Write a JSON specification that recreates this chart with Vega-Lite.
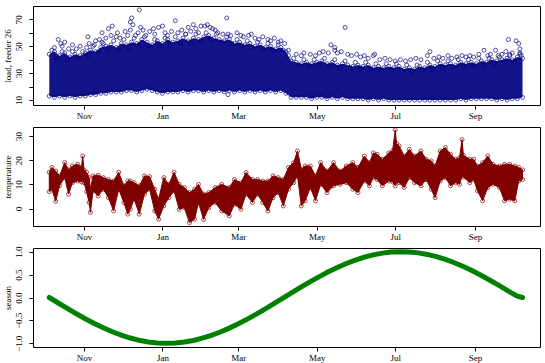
{
"$schema":"https://vega.github.io/schema/vega-lite/v6.json",
"padding":{"left":3,"top":5,"right":0,"bottom":0},
"background":"white",
"spacing":22,
"bounds":"flush",
"datasets":{
"load":[
{"d":"2010-10-05","lo":13,"hi":44},{"d":"2010-10-09","lo":12,"hi":46},{"d":"2010-10-13","lo":13,"hi":43},{"d":"2010-10-17","lo":12,"hi":45},{"d":"2010-10-21","lo":13,"hi":42},{"d":"2010-10-25","lo":12,"hi":44},{"d":"2010-10-29","lo":13,"hi":43},
{"d":"2010-11-02","lo":13,"hi":45},{"d":"2010-11-06","lo":14,"hi":47},{"d":"2010-11-10","lo":14,"hi":46},{"d":"2010-11-14","lo":15,"hi":49},{"d":"2010-11-18","lo":15,"hi":50},{"d":"2010-11-22","lo":16,"hi":51},{"d":"2010-11-26","lo":16,"hi":49},{"d":"2010-11-30","lo":16,"hi":52},
{"d":"2010-12-04","lo":17,"hi":51},{"d":"2010-12-08","lo":17,"hi":53},{"d":"2010-12-12","lo":16,"hi":52},{"d":"2010-12-16","lo":17,"hi":55},{"d":"2010-12-20","lo":18,"hi":53},{"d":"2010-12-24","lo":17,"hi":51},{"d":"2010-12-28","lo":16,"hi":54},
{"d":"2011-01-01","lo":15,"hi":52},{"d":"2011-01-05","lo":16,"hi":55},{"d":"2011-01-09","lo":16,"hi":53},{"d":"2011-01-13","lo":16,"hi":54},{"d":"2011-01-17","lo":17,"hi":56},{"d":"2011-01-21","lo":16,"hi":54},{"d":"2011-01-25","lo":17,"hi":56},{"d":"2011-01-29","lo":17,"hi":55},
{"d":"2011-02-02","lo":16,"hi":57},{"d":"2011-02-06","lo":17,"hi":58},{"d":"2011-02-10","lo":16,"hi":56},{"d":"2011-02-14","lo":17,"hi":55},{"d":"2011-02-18","lo":16,"hi":54},{"d":"2011-02-22","lo":17,"hi":55},{"d":"2011-02-26","lo":16,"hi":52},
{"d":"2011-03-02","lo":17,"hi":53},{"d":"2011-03-06","lo":16,"hi":51},{"d":"2011-03-10","lo":17,"hi":52},{"d":"2011-03-14","lo":16,"hi":50},{"d":"2011-03-18","lo":17,"hi":51},{"d":"2011-03-22","lo":16,"hi":49},{"d":"2011-03-26","lo":17,"hi":50},{"d":"2011-03-30","lo":16,"hi":48},
{"d":"2011-04-03","lo":17,"hi":49},{"d":"2011-04-07","lo":15,"hi":46},{"d":"2011-04-11","lo":12,"hi":39},{"d":"2011-04-15","lo":12,"hi":38},{"d":"2011-04-19","lo":12,"hi":37},{"d":"2011-04-23","lo":12,"hi":38},{"d":"2011-04-27","lo":11,"hi":37},
{"d":"2011-05-01","lo":12,"hi":38},{"d":"2011-05-05","lo":12,"hi":39},{"d":"2011-05-09","lo":11,"hi":37},{"d":"2011-05-13","lo":12,"hi":38},{"d":"2011-05-17","lo":11,"hi":36},{"d":"2011-05-21","lo":12,"hi":37},{"d":"2011-05-25","lo":11,"hi":36},{"d":"2011-05-29","lo":11,"hi":35},
{"d":"2011-06-02","lo":11,"hi":36},{"d":"2011-06-06","lo":11,"hi":35},{"d":"2011-06-10","lo":10,"hi":36},{"d":"2011-06-14","lo":11,"hi":34},{"d":"2011-06-18","lo":10,"hi":35},{"d":"2011-06-22","lo":11,"hi":34},{"d":"2011-06-26","lo":10,"hi":35},{"d":"2011-06-30","lo":10,"hi":34},
{"d":"2011-07-04","lo":10,"hi":35},{"d":"2011-07-08","lo":10,"hi":33},{"d":"2011-07-12","lo":10,"hi":34},{"d":"2011-07-16","lo":10,"hi":33},{"d":"2011-07-20","lo":10,"hi":35},{"d":"2011-07-24","lo":10,"hi":34},{"d":"2011-07-28","lo":10,"hi":36},
{"d":"2011-08-01","lo":10,"hi":35},{"d":"2011-08-05","lo":10,"hi":37},{"d":"2011-08-09","lo":10,"hi":36},{"d":"2011-08-13","lo":10,"hi":37},{"d":"2011-08-17","lo":10,"hi":36},{"d":"2011-08-21","lo":11,"hi":38},{"d":"2011-08-25","lo":10,"hi":37},{"d":"2011-08-29","lo":11,"hi":38},
{"d":"2011-09-02","lo":11,"hi":37},{"d":"2011-09-06","lo":11,"hi":39},{"d":"2011-09-10","lo":11,"hi":38},{"d":"2011-09-14","lo":11,"hi":40},{"d":"2011-09-18","lo":10,"hi":39},{"d":"2011-09-22","lo":11,"hi":40},{"d":"2011-09-26","lo":10,"hi":41},{"d":"2011-09-30","lo":11,"hi":40},
{"d":"2011-10-04","lo":11,"hi":42},{"d":"2011-10-08","lo":12,"hi":41}],
"loadpts":[
{"d":"2010-10-09","v":49},{"d":"2010-10-12","v":55},{"d":"2010-10-14","v":52},{"d":"2010-10-15","v":50},{"d":"2010-10-17","v":53},{"d":"2010-10-20","v":48},{"d":"2010-10-23","v":51},{"d":"2010-10-26","v":48},{"d":"2010-10-29","v":50},
{"d":"2010-11-03","v":49},{"d":"2010-11-04","v":57},{"d":"2010-11-05","v":52},{"d":"2010-11-09","v":51},{"d":"2010-11-10","v":54},{"d":"2010-11-13","v":55},{"d":"2010-11-15","v":53},{"d":"2010-11-15","v":60},{"d":"2010-11-18","v":56},{"d":"2010-11-20","v":63},{"d":"2010-11-22","v":58},{"d":"2010-11-23","v":65},{"d":"2010-11-26","v":57},{"d":"2010-11-27","v":60},{"d":"2010-11-29","v":56},
{"d":"2010-12-03","v":61},{"d":"2010-12-05","v":58},{"d":"2010-12-07","v":68},{"d":"2010-12-07","v":62},{"d":"2010-12-08","v":71},{"d":"2010-12-09","v":66},{"d":"2010-12-11","v":58},{"d":"2010-12-13","v":60},{"d":"2010-12-14","v":77},{"d":"2010-12-15","v":64},{"d":"2010-12-17","v":62},{"d":"2010-12-19","v":58},{"d":"2010-12-22","v":61},{"d":"2010-12-25","v":63},{"d":"2010-12-26","v":59},{"d":"2010-12-29","v":64},
{"d":"2011-01-01","v":65},{"d":"2011-01-03","v":60},{"d":"2011-01-05","v":58},{"d":"2011-01-08","v":61},{"d":"2011-01-11","v":69},{"d":"2011-01-13","v":60},{"d":"2011-01-16","v":62},{"d":"2011-01-19","v":59},{"d":"2011-01-21","v":64},{"d":"2011-01-23","v":61},{"d":"2011-01-25","v":66},{"d":"2011-01-27","v":63},{"d":"2011-01-29","v":60},
{"d":"2011-01-31","v":65},{"d":"2011-02-03","v":65},{"d":"2011-02-05","v":66},{"d":"2011-02-07","v":64},{"d":"2011-02-09","v":63},{"d":"2011-02-11","v":62},{"d":"2011-02-13","v":60},{"d":"2011-02-17","v":59},{"d":"2011-02-20","v":71},{"d":"2011-02-21","v":59},{"d":"2011-02-21","v":14},{"d":"2011-02-23","v":58},{"d":"2011-02-28","v":60},
{"d":"2011-03-03","v":58},{"d":"2011-03-05","v":57},{"d":"2011-03-09","v":58},{"d":"2011-03-11","v":59},{"d":"2011-03-14","v":56},{"d":"2011-03-17","v":55},{"d":"2011-03-20","v":57},{"d":"2011-03-24","v":55},{"d":"2011-03-26","v":54},{"d":"2011-03-29","v":56},
{"d":"2011-04-01","v":53},{"d":"2011-04-03","v":54},{"d":"2011-04-06","v":52},{"d":"2011-04-09","v":47},{"d":"2011-04-15","v":44},{"d":"2011-04-19","v":43},{"d":"2011-04-21","v":45},{"d":"2011-04-26","v":44},{"d":"2011-04-30","v":43},
{"d":"2011-05-03","v":45},{"d":"2011-05-06","v":46},{"d":"2011-05-10","v":45},{"d":"2011-05-12","v":51},{"d":"2011-05-15","v":47},{"d":"2011-05-15","v":49},{"d":"2011-05-17","v":45},{"d":"2011-05-20","v":46},{"d":"2011-05-23","v":64},{"d":"2011-05-25","v":44},{"d":"2011-05-28","v":43},
{"d":"2011-06-01","v":44},{"d":"2011-06-04","v":42},{"d":"2011-06-07","v":43},{"d":"2011-06-10","v":41},{"d":"2011-06-14","v":43},{"d":"2011-06-15","v":44},{"d":"2011-06-19","v":40},{"d":"2011-06-23","v":41},{"d":"2011-06-27","v":40},
{"d":"2011-07-01","v":39},{"d":"2011-07-05","v":40},{"d":"2011-07-09","v":39},{"d":"2011-07-13","v":40},{"d":"2011-07-17","v":41},{"d":"2011-07-21","v":40},{"d":"2011-07-26","v":43},{"d":"2011-07-28","v":46},{"d":"2011-07-31","v":41},
{"d":"2011-08-04","v":42},{"d":"2011-08-07","v":41},{"d":"2011-08-11","v":43},{"d":"2011-08-14","v":41},{"d":"2011-08-18","v":42},{"d":"2011-08-22","v":43},{"d":"2011-08-25","v":42},{"d":"2011-08-28","v":43},{"d":"2011-08-31","v":42},
{"d":"2011-09-04","v":44},{"d":"2011-09-08","v":47},{"d":"2011-09-11","v":43},{"d":"2011-09-13","v":44},{"d":"2011-09-17","v":47},{"d":"2011-09-19","v":43},{"d":"2011-09-22","v":44},{"d":"2011-09-25","v":46},{"d":"2011-09-27","v":55},{"d":"2011-09-28","v":44},{"d":"2011-09-30","v":45},
{"d":"2011-10-03","v":54},{"d":"2011-10-05","v":52},{"d":"2011-10-06","v":48},{"d":"2011-10-06","v":45},{"d":"2011-10-07","v":43},
{"d":"2010-10-07","v":47},{"d":"2010-10-11","v":41},{"d":"2010-10-15","v":46},{"d":"2010-10-19","v":40},{"d":"2010-10-23","v":46},{"d":"2010-10-27","v":41},{"d":"2010-10-31","v":46},{"d":"2010-11-04","v":43},{"d":"2010-11-08","v":50},{"d":"2010-11-12","v":45},{"d":"2010-11-16","v":52},{"d":"2010-11-20","v":47},{"d":"2010-11-24","v":54},{"d":"2010-11-28","v":47},
{"d":"2010-12-02","v":55},{"d":"2010-12-06","v":49},{"d":"2010-12-10","v":56},{"d":"2010-12-14","v":50},{"d":"2010-12-18","v":57},{"d":"2010-12-22","v":50},{"d":"2010-12-26","v":55},{"d":"2010-12-30","v":50},
{"d":"2011-01-03","v":56},{"d":"2011-01-07","v":51},{"d":"2011-01-11","v":57},{"d":"2011-01-15","v":52},{"d":"2011-01-19","v":59},{"d":"2011-01-23","v":52},{"d":"2011-01-27","v":59},{"d":"2011-01-31","v":53},
{"d":"2011-02-04","v":60},{"d":"2011-02-08","v":55},{"d":"2011-02-12","v":59},{"d":"2011-02-16","v":53},{"d":"2011-02-20","v":57},{"d":"2011-02-24","v":52},{"d":"2011-02-28","v":55},
{"d":"2011-03-04","v":50},{"d":"2011-03-08","v":54},{"d":"2011-03-12","v":49},{"d":"2011-03-16","v":53},{"d":"2011-03-20","v":48},{"d":"2011-03-24","v":52},{"d":"2011-03-28","v":47},
{"d":"2011-04-01","v":51},{"d":"2011-04-05","v":47},{"d":"2011-04-09","v":43},{"d":"2011-04-13","v":41},{"d":"2011-04-17","v":36},{"d":"2011-04-21","v":40},{"d":"2011-04-25","v":35},{"d":"2011-04-29","v":40},
{"d":"2011-05-03","v":36},{"d":"2011-05-07","v":41},{"d":"2011-05-11","v":35},{"d":"2011-05-15","v":40},{"d":"2011-05-19","v":34},{"d":"2011-05-23","v":39},{"d":"2011-05-27","v":34},{"d":"2011-05-31","v":38},
{"d":"2011-06-04","v":33},{"d":"2011-06-08","v":38},{"d":"2011-06-12","v":33},{"d":"2011-06-16","v":37},{"d":"2011-06-20","v":32},{"d":"2011-06-24","v":37},{"d":"2011-06-28","v":32},
{"d":"2011-07-02","v":37},{"d":"2011-07-06","v":32},{"d":"2011-07-10","v":36},{"d":"2011-07-14","v":31},{"d":"2011-07-18","v":36},{"d":"2011-07-22","v":32},{"d":"2011-07-26","v":38},{"d":"2011-07-30","v":33},
{"d":"2011-08-03","v":39},{"d":"2011-08-07","v":34},{"d":"2011-08-11","v":39},{"d":"2011-08-15","v":34},{"d":"2011-08-19","v":40},{"d":"2011-08-23","v":35},{"d":"2011-08-27","v":40},{"d":"2011-08-31","v":35},
{"d":"2011-09-04","v":41},{"d":"2011-09-08","v":36},{"d":"2011-09-12","v":41},{"d":"2011-09-16","v":37},{"d":"2011-09-20","v":42},{"d":"2011-09-24","v":38},{"d":"2011-09-28","v":43},{"d":"2011-10-02","v":38},{"d":"2011-10-06","v":44}],
"temp":[
{"d":"2010-10-05","lo":7,"hi":15},{"d":"2010-10-07","lo":8,"hi":17},{"d":"2010-10-10","lo":3,"hi":15.5},{"d":"2010-10-13","lo":9.5,"hi":13.5},{"d":"2010-10-17","lo":12.8,"hi":19},{"d":"2010-10-20","lo":6,"hi":16},{"d":"2010-10-23","lo":10.7,"hi":17.6},{"d":"2010-10-27","lo":11.4,"hi":18.3},{"d":"2010-10-30","lo":11,"hi":17},{"d":"2010-10-31","lo":12,"hi":21.7},
{"d":"2010-11-01","lo":10.7,"hi":16},{"d":"2010-11-03","lo":7,"hi":15},{"d":"2010-11-05","lo":2.5,"hi":12.8},{"d":"2010-11-06","lo":-1.6,"hi":8},{"d":"2010-11-08","lo":7.3,"hi":13.5},{"d":"2010-11-12","lo":5.2,"hi":13.8},{"d":"2010-11-16","lo":8,"hi":12.8},{"d":"2010-11-20","lo":4.5,"hi":12},{"d":"2010-11-24","lo":-1,"hi":11.4},{"d":"2010-11-28","lo":8,"hi":15},
{"d":"2010-12-02","lo":2.5,"hi":9.4},{"d":"2010-12-05","lo":-2.3,"hi":11.4},{"d":"2010-12-07","lo":-0.3,"hi":11.4},{"d":"2010-12-10","lo":3.9,"hi":10.7},{"d":"2010-12-14","lo":-2.3,"hi":9.4},{"d":"2010-12-18","lo":5.9,"hi":13.5},{"d":"2010-12-22","lo":8,"hi":13.2},{"d":"2010-12-26","lo":-1,"hi":8},{"d":"2010-12-29","lo":-4.4,"hi":3.9},
{"d":"2011-01-02","lo":1.1,"hi":12.8},{"d":"2011-01-06","lo":4.5,"hi":10},{"d":"2011-01-10","lo":7.3,"hi":15},{"d":"2011-01-14","lo":-0.3,"hi":10},{"d":"2011-01-18","lo":0.4,"hi":8.7},{"d":"2011-01-22","lo":-5.8,"hi":6.6},{"d":"2011-01-26","lo":-4.4,"hi":8},{"d":"2011-01-29","lo":2.5,"hi":10},
{"d":"2011-02-02","lo":-4.5,"hi":6},{"d":"2011-02-06","lo":0.4,"hi":6.6},{"d":"2011-02-11","lo":2.5,"hi":8.7},{"d":"2011-02-16","lo":-1,"hi":10},{"d":"2011-02-22","lo":-3,"hi":8.7},{"d":"2011-02-26","lo":1.8,"hi":12},
{"d":"2011-03-03","lo":-0.3,"hi":10.7},{"d":"2011-03-07","lo":5.9,"hi":14.9},{"d":"2011-03-12","lo":2.5,"hi":12},{"d":"2011-03-16","lo":5.9,"hi":12},{"d":"2011-03-20","lo":2.5,"hi":11.4},{"d":"2011-03-24","lo":-1,"hi":11.4},{"d":"2011-03-28","lo":4.5,"hi":13.5},
{"d":"2011-04-01","lo":6.6,"hi":12.8},{"d":"2011-04-05","lo":1.1,"hi":12},{"d":"2011-04-09","lo":8,"hi":17},{"d":"2011-04-13","lo":10.7,"hi":19},{"d":"2011-04-16","lo":13.5,"hi":23.8},{"d":"2011-04-19","lo":1.1,"hi":16.2},{"d":"2011-04-22","lo":3.2,"hi":17.6},{"d":"2011-04-26","lo":8.7,"hi":17.6},{"d":"2011-04-30","lo":3.2,"hi":13.5},
{"d":"2011-05-04","lo":10,"hi":19},{"d":"2011-05-09","lo":6.6,"hi":15.5},{"d":"2011-05-14","lo":9.4,"hi":19},{"d":"2011-05-19","lo":10,"hi":15.5},{"d":"2011-05-24","lo":10.7,"hi":17.6},{"d":"2011-05-29","lo":8,"hi":19},
{"d":"2011-06-02","lo":6.6,"hi":17},{"d":"2011-06-07","lo":11.4,"hi":21.7},{"d":"2011-06-11","lo":9.4,"hi":19},{"d":"2011-06-14","lo":12.8,"hi":23},{"d":"2011-06-17","lo":12,"hi":22.4},{"d":"2011-06-21","lo":9.4,"hi":20.4},{"d":"2011-06-26","lo":11.4,"hi":23},{"d":"2011-06-29","lo":11,"hi":24},
{"d":"2011-07-01","lo":9.4,"hi":32.5},{"d":"2011-07-02","lo":11,"hi":27},{"d":"2011-07-04","lo":10.7,"hi":25.9},{"d":"2011-07-08","lo":8.7,"hi":21.7},{"d":"2011-07-12","lo":12.8,"hi":24.5},{"d":"2011-07-16","lo":10.7,"hi":21.7},{"d":"2011-07-21","lo":9.4,"hi":23.8},{"d":"2011-07-25","lo":12,"hi":20.4},{"d":"2011-07-29","lo":8,"hi":19.7},
{"d":"2011-08-01","lo":4.5,"hi":17.6},{"d":"2011-08-05","lo":11.4,"hi":23.8},{"d":"2011-08-09","lo":12.8,"hi":25.2},{"d":"2011-08-13","lo":9.4,"hi":22.4},{"d":"2011-08-17","lo":10.7,"hi":20.4},{"d":"2011-08-20","lo":10,"hi":21},{"d":"2011-08-22","lo":13.5,"hi":28.5},{"d":"2011-08-23","lo":13,"hi":22},{"d":"2011-08-28","lo":10.7,"hi":20.4},{"d":"2011-08-31","lo":12,"hi":20.4},
{"d":"2011-09-03","lo":7.3,"hi":17.6},{"d":"2011-09-07","lo":3.2,"hi":19},{"d":"2011-09-11","lo":8.7,"hi":21.7},{"d":"2011-09-15","lo":10,"hi":18.3},{"d":"2011-09-20","lo":8.7,"hi":17.6},{"d":"2011-09-24","lo":3.2,"hi":18.3},{"d":"2011-09-28","lo":3.9,"hi":18.3},
{"d":"2011-10-02","lo":3.2,"hi":17.6},{"d":"2011-10-05","lo":11.4,"hi":17},{"d":"2011-10-08","lo":12,"hi":16}],
"season":[
{"d":"2010-10-05","s":0},{"d":"2010-10-12","s":-0.12},{"d":"2010-10-19","s":-0.239},{"d":"2010-10-26","s":-0.354},{"d":"2010-11-02","s":-0.464},{"d":"2010-11-09","s":-0.567},{"d":"2010-11-16","s":-0.662},{"d":"2010-11-23","s":-0.747},{"d":"2010-11-30","s":-0.821},{"d":"2010-12-07","s":-0.884},{"d":"2010-12-14","s":-0.934},{"d":"2010-12-21","s":-0.970},{"d":"2010-12-28","s":-0.992},
{"d":"2011-01-04","s":-1.0},{"d":"2011-01-11","s":-0.993},{"d":"2011-01-18","s":-0.972},{"d":"2011-01-25","s":-0.937},{"d":"2011-02-01","s":-0.888},{"d":"2011-02-08","s":-0.826},{"d":"2011-02-15","s":-0.753},{"d":"2011-02-22","s":-0.668},{"d":"2011-03-01","s":-0.574},{"d":"2011-03-08","s":-0.472},{"d":"2011-03-15","s":-0.363},{"d":"2011-03-22","s":-0.248},{"d":"2011-03-29","s":-0.129},
{"d":"2011-04-05","s":-0.009},{"d":"2011-04-12","s":0.112},{"d":"2011-04-19","s":0.230},{"d":"2011-04-26","s":0.346},{"d":"2011-05-03","s":0.456},{"d":"2011-05-10","s":0.560},{"d":"2011-05-17","s":0.655},{"d":"2011-05-24","s":0.741},{"d":"2011-05-31","s":0.816},{"d":"2011-06-07","s":0.880},{"d":"2011-06-14","s":0.931},{"d":"2011-06-21","s":0.968},{"d":"2011-06-28","s":0.991},
{"d":"2011-07-05","s":1.0},{"d":"2011-07-12","s":0.994},{"d":"2011-07-19","s":0.974},{"d":"2011-07-26","s":0.940},{"d":"2011-08-02","s":0.892},{"d":"2011-08-09","s":0.831},{"d":"2011-08-16","s":0.759},{"d":"2011-08-23","s":0.675},{"d":"2011-08-30","s":0.582},{"d":"2011-09-06","s":0.481},{"d":"2011-09-13","s":0.372},{"d":"2011-09-20","s":0.258},{"d":"2011-09-27","s":0.138},{"d":"2011-10-04","s":0.03},{"d":"2011-10-08","s":0.0}]
},
"vconcat":[
{"width":507,"height":99,
"encoding":{"x":{"field":"d","type":"temporal","scale":{"type":"utc","domain":[{"year":2010,"month":9,"date":22,"hours":8,"utc":true},{"year":2011,"month":10,"date":21,"hours":14,"utc":true}]},
 "axis":{"values":[{"year":2010,"month":11,"date":1,"utc":true},{"year":2011,"month":1,"date":1,"utc":true},{"year":2011,"month":3,"date":1,"utc":true},{"year":2011,"month":5,"date":1,"utc":true},{"year":2011,"month":7,"date":1,"utc":true},{"year":2011,"month":9,"date":1,"utc":true}],"format":"%b"}}},
"layer":[
 {"data":{"name":"load"},"mark":{"type":"area","color":"#000080","opacity":0.92},"encoding":{"y":{"field":"lo","type":"quantitative","scale":{"domain":[6.3,79.9],"nice":false,"zero":false},"axis":{"values":[10,20,30,40,50,60,70],"labelExpr":"datum.value % 20 == 10 ? datum.label : ''","labelOverlap":false,"title":"load, feeder 26"}},"y2":{"field":"hi"}}},
 {"data":{"name":"load"},"mark":{"type":"point","shape":"circle","filled":false,"stroke":"#000080","strokeWidth":1,"size":16},"encoding":{"y":{"field":"hi","type":"quantitative","axis":{"values":[10,20,30,40,50,60,70],"labelExpr":"datum.value % 20 == 10 ? datum.label : ''","labelOverlap":false,"title":"load, feeder 26"}}}},
 {"data":{"name":"load"},"mark":{"type":"point","shape":"circle","filled":false,"stroke":"#000080","strokeWidth":1,"size":16},"encoding":{"y":{"field":"lo","type":"quantitative","axis":{"values":[10,20,30,40,50,60,70],"labelExpr":"datum.value % 20 == 10 ? datum.label : ''","labelOverlap":false,"title":"load, feeder 26"}}}},
 {"data":{"name":"loadpts"},"mark":{"type":"point","shape":"circle","filled":false,"stroke":"#000080","strokeWidth":1,"size":16},"encoding":{"y":{"field":"v","type":"quantitative","axis":{"values":[10,20,30,40,50,60,70],"labelExpr":"datum.value % 20 == 10 ? datum.label : ''","labelOverlap":false,"title":"load, feeder 26"}}}}
]},
{"width":507,"height":99,
"encoding":{"x":{"field":"d","type":"temporal","scale":{"type":"utc","domain":[{"year":2010,"month":9,"date":22,"hours":8,"utc":true},{"year":2011,"month":10,"date":21,"hours":14,"utc":true}]},
 "axis":{"values":[{"year":2010,"month":11,"date":1,"utc":true},{"year":2011,"month":1,"date":1,"utc":true},{"year":2011,"month":3,"date":1,"utc":true},{"year":2011,"month":5,"date":1,"utc":true},{"year":2011,"month":7,"date":1,"utc":true},{"year":2011,"month":9,"date":1,"utc":true}],"format":"%b"}}},
"layer":[
 {"data":{"name":"temp"},"mark":{"type":"area","color":"#800000","stroke":"#800000","strokeWidth":1,"opacity":1},"encoding":{"y":{"field":"lo","type":"quantitative","scale":{"domain":[-7.2,33.7],"nice":false,"zero":false},"axis":{"values":[0,10,20,30],"labelOverlap":false,"title":"temperature"}},"y2":{"field":"hi"}}},
 {"data":{"name":"temp"},"mark":{"type":"point","shape":"circle","filled":false,"stroke":"#800000","strokeWidth":1,"size":16},"encoding":{"y":{"field":"hi","type":"quantitative","axis":{"values":[0,10,20,30],"labelOverlap":false,"title":"temperature"}}}},
 {"data":{"name":"temp"},"mark":{"type":"point","shape":"circle","filled":false,"stroke":"#800000","strokeWidth":1,"size":16},"encoding":{"y":{"field":"lo","type":"quantitative","axis":{"values":[0,10,20,30],"labelOverlap":false,"title":"temperature"}}}}
]},
{"width":507,"height":99,
"data":{"name":"season"},
"mark":{"type":"line","color":"#008000","strokeWidth":5,"strokeCap":"round"},
"encoding":{"x":{"field":"d","type":"temporal","scale":{"type":"utc","domain":[{"year":2010,"month":9,"date":22,"hours":8,"utc":true},{"year":2011,"month":10,"date":21,"hours":14,"utc":true}]},
 "axis":{"values":[{"year":2010,"month":11,"date":1,"utc":true},{"year":2011,"month":1,"date":1,"utc":true},{"year":2011,"month":3,"date":1,"utc":true},{"year":2011,"month":5,"date":1,"utc":true},{"year":2011,"month":7,"date":1,"utc":true},{"year":2011,"month":9,"date":1,"utc":true}],"format":"%b"}},
 "y":{"field":"s","type":"quantitative","scale":{"domain":[-1.08,1.08],"nice":false,"zero":false},"axis":{"values":[-1,-0.5,0,0.5,1],"format":".1f","labelOverlap":false,"title":"season"}}}}
],
"config":{
 "view":{"stroke":"#000","strokeWidth":1},
 "font":"Liberation Serif",
 "axis":{"grid":false,"domain":false,"tickColor":"#000","tickSize":4,"labelFont":"Liberation Serif","labelFontSize":9,"labelColor":"#000","titleFont":"Liberation Serif","titleFontSize":9,"titleFontWeight":"normal","titleColor":"#000","labelFlush":false,"labelOverlap":false},
 "axisX":{"labelBaseline":"alphabetic","labelPadding":9,"title":null},
 "axisY":{"labelAngle":-90,"labelAlign":"center","labelBaseline":"alphabetic","labelPadding":8,"titleX":-25.5,"titleBaseline":"middle","titleAngle":-90}
}
}
